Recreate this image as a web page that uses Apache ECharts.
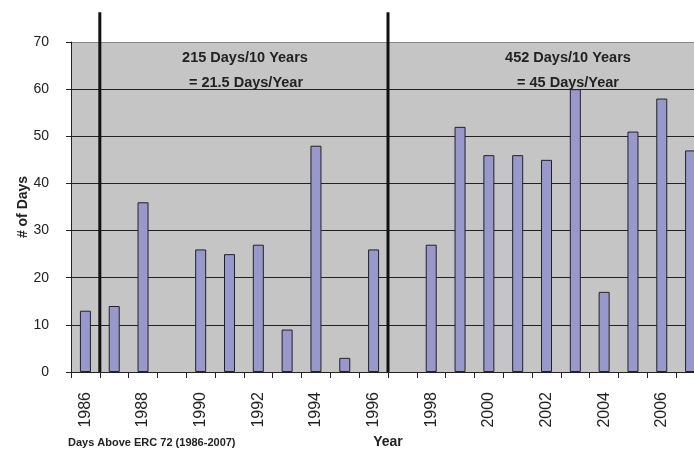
<!DOCTYPE html>
<html>
<head>
<meta charset="utf-8">
<script src="https://cdn.jsdelivr.net/npm/echarts@6/dist/echarts.min.js"></script>
<style>
html,body{margin:0;padding:0;background:#fff;overflow:hidden;}
#c{width:705px;height:454px;}
</style>
</head>
<body>
<div id="c"></div>
<script>
const years = ['1986','1987','1988','1989','1990','1991','1992','1993','1994','1995','1996','1997','1998','1999','2000','2001','2002','2003','2004','2005','2006','2007'];
const days = [13,14,36,0,26,25,27,9,48,3,26,0,27,52,46,46,45,60,17,51,58,47];
const dividerAfter = ['1986','1996'];
const yTicks = [0,10,20,30,40,50,60,70];
const notes = [
  ['215 Days/10 Years','= 21.5 Days/Year'],
  ['452 Days/10 Years','= 45 Days/Year']
];

const chart = echarts.init(document.getElementById('c'));
const FONT = '"Liberation Sans", Arial, sans-serif';
chart.setOption({
  animation:false,
  backgroundColor:'#fff',
  grid:{left:71, right:0, top:42, bottom:79, show:true, backgroundColor:'#c5c5c5', borderWidth:0},
  xAxis:{
    type:'category', data:years,
    name:'Year', nameLocation:'middle', nameGap:63, nameMoveOverlap:false,
    nameTextStyle:{fontFamily:FONT, fontWeight:'bold', fontSize:14, color:'#222'},
    axisLine:{lineStyle:{color:'#222', width:1}},
    axisTick:{show:true, interval:0, alignWithLabel:false, length:6, lineStyle:{color:'#222'}},
    axisLabel:{interval:1, rotate:90, margin:20, fontFamily:FONT, fontSize:16, color:'#222'},
    splitLine:{show:false}
  },
  yAxis:{
    type:'value', min:yTicks[0], max:yTicks[yTicks.length-1], interval:10,
    name:'# of Days', nameLocation:'middle', nameGap:41, nameMoveOverlap:false,
    nameTextStyle:{fontFamily:FONT, fontWeight:'bold', fontSize:14, color:'#222'},
    axisLine:{show:true, lineStyle:{color:'#222'}},
    axisTick:{show:true, length:5, lineStyle:{color:'#222'}},
    axisLabel:{margin:22, fontFamily:FONT, fontSize:14, color:'#222'},
    splitLine:{show:true, lineStyle:{color:['#222','#222','#222','#222','#222','#222','#222','#888'], width:1}}
  },
  series:[
    {
      type:'bar', data:days.map(v => v === 0 ? '-' : v), barWidth:11,
      itemStyle:{color:'#9898cc', borderColor:'#222', borderWidth:1}
    },
    {
      type:'custom', clip:false, z:5,
      data:dividerAfter.map(y=>[y,0]),
      renderItem:function(params, api){
        const cat = api.value(0);
        const base = api.coord([cat, 0]);
        const top = api.coord([cat, 76.3]);
        const w = api.size([1,0])[0];
        const x = base[0] + w/2;
        return {type:'line', shape:{x1:x, y1:top[1], x2:x, y2:base[1]}, style:{stroke:'#111', lineWidth:3}};
      }
    }
  ],
  graphic:[
    {type:'text', style:{text:notes[0][0], x:245, y:58, align:'center', verticalAlign:'middle', font:'bold 14.5px '+FONT, fill:'#222'}},
    {type:'text', style:{text:notes[0][1], x:246, y:83, align:'center', verticalAlign:'middle', font:'bold 14.5px '+FONT, fill:'#222'}},
    {type:'text', style:{text:notes[1][0], x:568, y:58, align:'center', verticalAlign:'middle', font:'bold 14.5px '+FONT, fill:'#222'}},
    {type:'text', style:{text:notes[1][1], x:568, y:83, align:'center', verticalAlign:'middle', font:'bold 14.5px '+FONT, fill:'#222'}},
    {type:'text', style:{text:'Days Above ERC 72 (1986-2007)', x:68, y:443, align:'left', verticalAlign:'middle', font:'bold 11px '+FONT, fill:'#222'}}
  ]
});
</script>
</body>
</html>
